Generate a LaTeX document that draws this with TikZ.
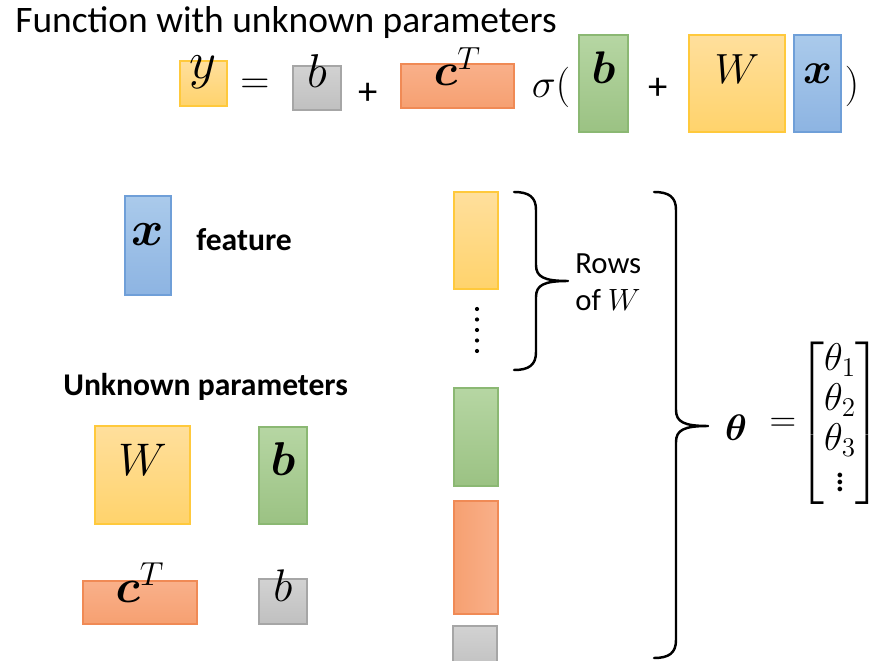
\documentclass[tikz,border=0pt]{standalone}
\usepackage{fix-cm}
\usepackage{amsmath,amssymb,bm}
\usepackage{fontspec}
\setmainfont{Carlito}
\usepackage{tikz}
\usetikzlibrary{calc}
\usetikzlibrary{fit}

\definecolor{ylwtop}{HTML}{FFDF9C}
\definecolor{ylwbot}{HTML}{FFD36C}
\definecolor{ylwline}{HTML}{FFC93C}
\definecolor{grntop}{HTML}{B6D6A3}
\definecolor{grnbot}{HTML}{9BC283}
\definecolor{grnline}{HTML}{8BB873}
\definecolor{orgtop}{HTML}{F9B08A}
\definecolor{orgbot}{HTML}{F6A071}
\definecolor{orgline}{HTML}{F08A55}
\definecolor{blutop}{HTML}{AACAEB}
\definecolor{blubot}{HTML}{8DB4E2}
\definecolor{bluline}{HTML}{6F9FD8}
\definecolor{gratop}{HTML}{D2D2D2}
\definecolor{grabot}{HTML}{C0C0C0}
\definecolor{graline}{HTML}{A6A6A6}

\newcommand{\fs}[2]{\fontsize{#1}{#2}\selectfont}
\tikzset{
  blk/.style={inner sep=0pt,outer sep=0pt,line width=0.6pt,font=\fs{22}{26}},
  ylwblk/.style={blk,draw=ylwline,top color=ylwtop,bottom color=ylwbot},
  grnblk/.style={blk,draw=grnline,top color=grntop,bottom color=grnbot},
  orgblk/.style={blk,draw=orgline,top color=orgtop,bottom color=orgbot},
  blublk/.style={blk,draw=bluline,top color=blutop,bottom color=blubot},
  grablk/.style={blk,draw=graline,top color=gratop,bottom color=grabot},
  mathtxt/.style={inner sep=0pt,font=\fs{23}{27}},
  plustxt/.style={inner sep=0pt,font=\fs{22}{26}},
  lbltxt/.style={inner sep=0pt,font=\fs{17.5}{21}},
  boldtxt/.style={inner sep=0pt,font=\fs{18}{22}\bfseries},
  bracestroke/.style={line width=1.4pt,line cap=round,line join=round}
}
% box from corner to corner, with a name and a label
\newcommand{\blknode}[7]{\node[#1,fit={(#3,#4) (#5,#6)}] (#2) {#7};}
% right curly brace: x of the ends, top, tip, bottom
\newcommand{\bracepath}[4]{\draw[bracestroke] (#1,#2) .. controls (#1+15,#2) and (#1+22,#2+5) .. (#1+22,#2+18)
  -- (#1+22,#3-16) .. controls (#1+22,#3-4) and (#1+30,#3) .. (#1+54,#3)
  .. controls (#1+30,#3) and (#1+22,#3+4) .. (#1+22,#3+16)
  -- (#1+22,#4-18) .. controls (#1+22,#4-5) and (#1+15,#4) .. (#1,#4);}

\begin{document}
\begin{tikzpicture}[x=0.02cm,y=-0.02cm]
        \useasboundingbox (0,0) rectangle (874,661);

        %title
        \node[anchor=base west,inner sep=0pt,font=\fs{21.3}{25}] (title) at (15,33) {Function with unknown parameters};

        %equation
        \blknode{ylwblk,font=\fs{30}{34}}{yout}{180}{61}{227}{106}{$y$}
        \node[mathtxt] (eqa) at (255,86) {$=$};
        \blknode{grablk,font=\fs{27}{31}}{bias}{293}{66}{341}{110}{$b$}
        \node[plustxt] (plusa) at (368,94) {+};
        \blknode{orgblk,font=\fs{26}{30}}{ctr}{401}{64}{514}{108}{$\bm{c}^T$}
        \node[mathtxt] (sig) at (551,87) {$\sigma($};
        \blknode{grnblk,font=\fs{26}{30}}{bvec}{579}{35}{628}{132}{$\bm{b}$}
        \node[plustxt] (plusb) at (658,89) {+};
        \blknode{ylwblk,font=\fs{24}{28}}{wmat}{689}{35}{785}{132}{$W$}
        \blknode{blublk,font=\fs{25}{29}}{xvec}{794}{35}{841}{132}{$\bm{x}$}
        \node[mathtxt] (rpar) at (852,86) {$)$};

        %feature
        \blknode{blublk,font=\fs{28}{32}}{xfeat}{125}{196}{171}{295}{$\bm{x}$}
        \node[boldtxt,anchor=west] (feat) at (196,240) {feature};

        %unknown parameters
        \node[boldtxt,anchor=west] (unk) at (63,387) {Unknown parameters};
        \blknode{ylwblk,font=\fs{26}{30}}{wpar}{95}{426}{190}{524}{$W$}
        \blknode{grnblk,font=\fs{27}{31}}{bpar}{259}{427}{307}{524}{$\bm{b}$}
        \blknode{orgblk,font=\fs{27}{31}}{cpar}{83}{581}{197}{624}{$\bm{c}^T$}
        \blknode{grablk,font=\fs{26}{30}}{spar}{259}{579}{307}{624}{$b$}

        %stacked column
        \blknode{ylwblk}{rowa}{454}{192}{498}{289}{}
        \foreach \k in {0,...,4} \fill (477,309+\k*10.5) circle (2.1);
        \blknode{grnblk}{colb}{454}{388}{498}{486}{}
        \blknode{blk,draw=orgline,left color=orgbot,right color=orgtop}{colc}{454}{501}{498}{614}{}
        \blknode{grablk}{cold}{453}{626}{497}{672}{}

        %braces
        \bracepath{514}{192}{281}{370}
        \node[lbltxt,anchor=west,align=left] (rows) at (575,282) {Rows\\of $W$};
        \bracepath{654}{192}{426}{658}

        %theta
        \node[inner sep=0pt,font=\fs{21}{25}] (theta) at (736,428) {$\bm{\theta}$};
        \node[inner sep=0pt,font=\fs{21}{25}] (eqb) at (783,425) {$=$};
        \node[inner sep=0pt,font=\fs{22}{26}] (vecth) at (840,423)
          {\renewcommand{\arraystretch}{0.87}$\begin{bmatrix}\theta_1\\ \theta_2\\ \theta_3\\ \vdots\end{bmatrix}$};
\end{tikzpicture}
\end{document}
